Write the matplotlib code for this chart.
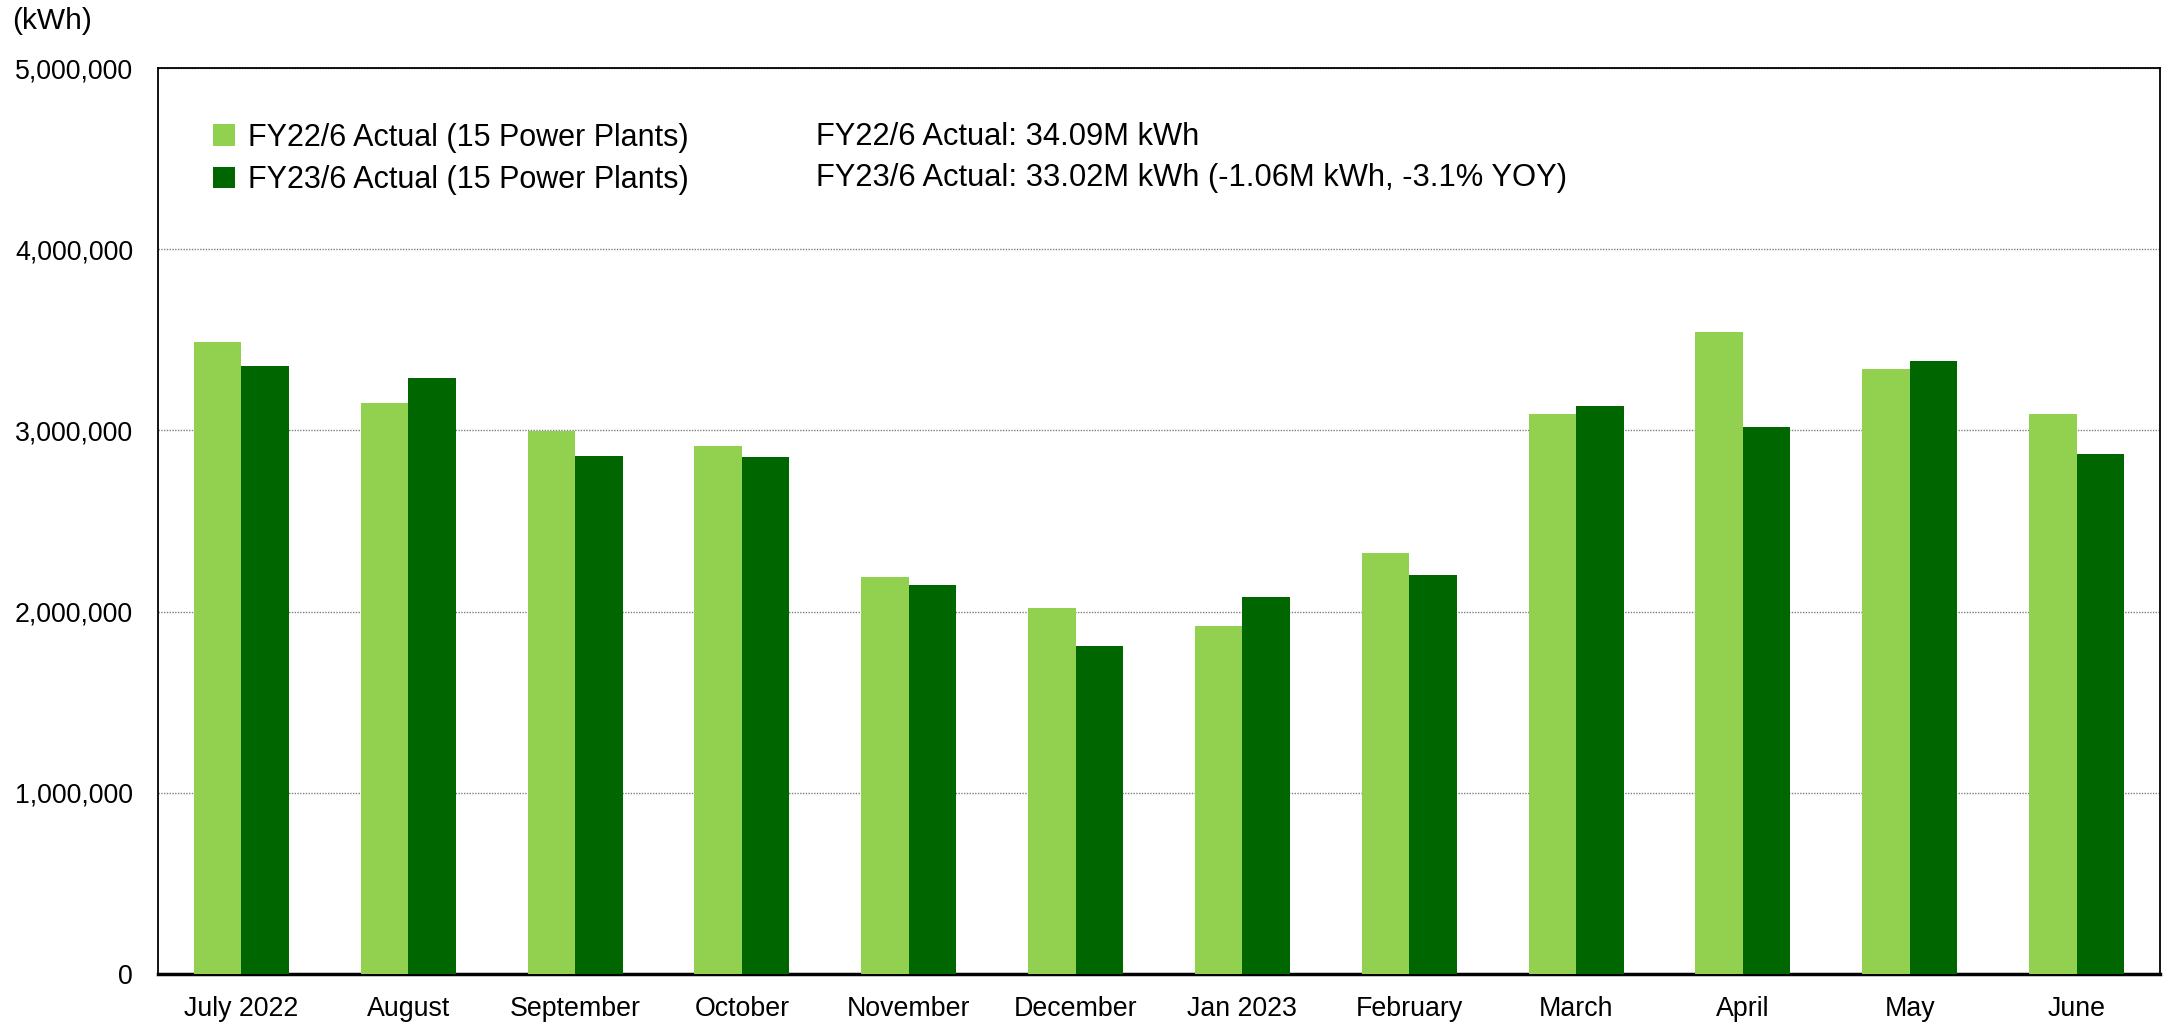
import matplotlib
matplotlib.use("Agg")
import matplotlib.pyplot as plt
from matplotlib.patches import Patch
from matplotlib.ticker import FuncFormatter
import numpy as np

plt.rcParams['font.family'] = ['Liberation Sans', 'DejaVu Sans']

# monthly generation (kWh)
months = ["July 2022", "August", "September", "October", "November", "December",
          "Jan 2023", "February", "March", "April", "May", "June"]
fy22 = [3486000, 3150000, 2997000, 2916000, 2191000, 2020000,
        1921000, 2322000, 3092000, 3541000, 3337000, 3092000]
fy23 = [3354000, 3288000, 2859000, 2851000, 2147000, 1810000,
        2079000, 2200000, 3133000, 3017000, 3381000, 2870000]

series_names = ["FY22/6 Actual (15 Power Plants)", "FY23/6 Actual (15 Power Plants)"]
summary_lines = ["FY22/6 Actual: 34.09M kWh",
                 "FY23/6 Actual: 33.02M kWh (-1.06M kWh, -3.1% YOY)"]
y_ticks = [0, 1000000, 2000000, 3000000, 4000000, 5000000]

light = "#92D050"
dark = "#006600"

W, H = 2163, 1024
fig = plt.figure(figsize=(W / 100, H / 100), dpi=100)
ax = fig.add_axes([158 / W, 1 - 974 / H, (2160 - 158) / W, (974 - 68) / H])

x = np.arange(len(months))
bw = 0.285
ax.bar(x - bw / 2, fy22, width=bw, color=light, zorder=3)
ax.bar(x + bw / 2, fy23, width=bw, color=dark, zorder=3)

ax.set_xlim(-0.5, len(months) - 0.5)
ax.set_ylim(0, 5000000)
ax.set_yticks(y_ticks)
ax.yaxis.set_major_formatter(FuncFormatter(lambda v, p: f"{int(v):,}"))
ax.set_xticks(x)
ax.set_xticklabels(months)
ax.tick_params(axis='both', length=0, labelsize=19.3)
ax.tick_params(axis='y', pad=18)
ax.tick_params(axis='x', pad=16)

ax.grid(axis='y', color='#808080', linestyle=(0, (1, 1)), linewidth=1, zorder=0)
for s in ['left', 'top', 'right']:
    ax.spines[s].set_linewidth(1.3)
ax.spines['bottom'].set_linewidth(2.5)

# unit label
fig.text(12 / W, 1 - 21 / H, "(kWh)", fontsize=21.5, va='center', ha='left')

handles = [Patch(facecolor=light), Patch(facecolor=dark)]
ax.legend(handles, series_names, loc='upper left',
          bbox_to_anchor=(213 / W, 1 - 123 / H), bbox_transform=fig.transFigure,
          frameon=False, fontsize=22, borderpad=0, borderaxespad=0,
          handlelength=0.72, handleheight=0.72, handletextpad=0.42,
          labelspacing=0.4)

for i, line in enumerate(summary_lines):
    fig.text(816 / W, 1 - (137 + 41 * i) / H, line, fontsize=22.2, va='center', ha='left')

fig.savefig("out.png", dpi=100)
